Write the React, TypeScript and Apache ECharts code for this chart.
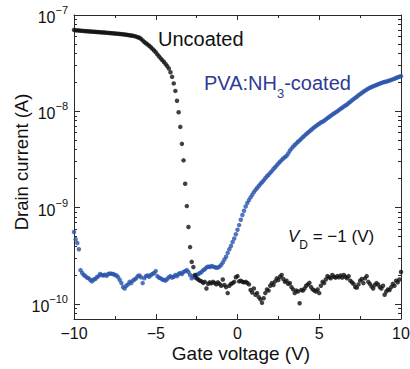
import React, { useEffect, useRef } from "react";
import * as echarts from "echarts";

const FONT = '"Liberation Sans", Arial, Helvetica, sans-serif';
const MINUS = "\u2212";

// Gate voltage sweep: -10 V to +10 V in 0.1 V steps (201 points)
const gateVoltage: number[] = Array.from({ length: 201 }, (_, i) => Math.round((-10 + i * 0.1) * 10) / 10);

// Drain current, uncoated device, in units of 1e-10 A
const uncoatedCurrent: number[] = [
  700, 695, 692, 690, 688, 685, 683, 680, 678, 676, 674,
  672, 670, 668, 666, 664, 662, 660, 658, 656, 654,
  652, 650, 647, 645, 643, 640, 638, 635, 633, 630,
  627, 624, 620, 617, 613, 609, 603, 597, 588, 580,
  565, 545, 525, 510, 495, 480, 462, 445, 428, 410,
  390, 372, 355, 340, 325, 310, 295, 278, 255, 228,
  195, 163, 129, 98, 69, 46, 31, 17.7, 10.4, 6.3,
  3.9, 2.74, 2.42, 2.0,
  1.85, 1.8, 1.75, 1.72, 1.66, 1.7, 1.45, 1.62, 1.68, 1.64,
  1.7, 1.66, 1.6, 1.68, 1.62, 1.55, 1.8, 1.58, 1.5, 1.3,
  1.55, 1.62, 1.65, 1.7, 1.9, 1.95, 1.72, 1.75, 1.7, 1.68,
  1.7, 1.66, 1.6, 1.4, 1.32, 1.45, 1.25, 1.3, 1.18, 1.12,
  1.03, 1.15, 1.3, 1.42, 1.38, 1.55, 1.65, 1.58, 1.72, 1.85,
  1.78, 1.92, 2.0, 1.82, 1.7, 1.75, 1.62, 1.65, 1.5, 1.42,
  1.3, 1.38, 1.35, 1.02, 1.4, 1.38, 1.45, 1.55, 1.6, 1.66,
  1.5, 1.42, 1.38, 1.35, 1.42, 1.3, 1.55, 1.7, 1.65, 1.8,
  1.95, 1.9, 1.85, 2.0, 1.92, 1.88, 1.95, 1.9, 1.98, 1.88,
  2.0, 1.92, 1.85, 1.95, 1.75, 1.68, 1.62, 1.5, 1.48, 1.6,
  1.75, 1.82, 1.65, 1.85, 1.95, 1.7, 1.62, 1.52, 1.45, 1.58,
  1.65, 1.6, 1.5, 1.45, 1.55, 1.25, 1.35, 1.42, 1.4, 1.5,
  1.62, 1.55, 1.75, 1.68, 1.8, 2.15,
];

// Drain current, PVA:NH3-coated device, in units of 1e-10 A
const coatedCurrent: number[] = [
  5.6, 4.7, 4.3, 3.7, 2.25, 2.1, 2.0, 1.95, 1.88, 1.85,
  1.78, 1.72, 1.8, 1.82, 1.9, 1.95, 2.05, 2.0, 1.98, 2.02,
  1.97, 2.05, 2.08, 2.06, 2.05, 2.0, 1.98, 1.9, 1.78, 1.65,
  1.5, 1.45, 1.55, 1.6, 1.7, 1.65, 1.75, 1.8, 1.85, 1.95,
  1.98, 1.9, 1.65, 1.85, 1.95, 1.98, 1.92, 2.0, 2.05, 2.1,
  2.2, 1.95, 1.88, 1.85, 1.8, 1.78, 1.75, 1.82, 1.9, 1.95,
  1.88, 1.92, 2.0, 1.95, 2.05, 2.1, 2.05, 2.15, 2.2, 2.25,
  2.15, 2.0, 1.85, 1.95, 1.9, 2.0, 2.05, 2.1, 2.15, 2.25,
  2.3, 2.4, 2.45, 2.42, 2.48, 2.45, 2.42, 2.38, 2.4, 2.45,
  2.55, 2.7, 2.9, 3.1, 3.4, 3.7, 4.0, 4.4, 4.8, 5.3,
  5.9, 6.6, 7.5, 8.4, 9.3, 10.3, 11.2, 12.0, 12.8, 13.6,
  14.5, 15.3, 16.0, 16.8, 17.6, 18.4, 19.2, 20.2, 21.2, 22.0,
  23.0, 24.0, 25.2, 26.3, 27.5, 28.8, 30.0, 31.2, 32.4, 33.5,
  34.5, 36.5, 39.0, 41.0, 43.0, 44.8, 46.5, 48.3, 50.0, 52.0,
  54.0, 56.0, 58.0, 60.0, 62.0, 64.0, 66.5, 68.5, 70.5, 72.5,
  74.5, 76.5, 78.0, 80.0, 82.5, 85.0, 87.5, 90.0, 92.5, 95.0,
  97.5, 100, 103, 106, 109, 112, 115, 118, 122, 126,
  130, 134, 138, 142, 147, 151, 155, 160, 164, 168,
  172, 176, 179, 182, 185, 188, 191, 194, 197, 200,
  202, 204, 206, 209, 212, 215, 218, 222, 226, 229,
  232,
];

const CURRENT_UNIT = 1e-10;

// Axis ranges (log10 of current in A)
const Y_MIN = Math.log10(7e-11);
const Y_MAX = -7;
const yMajorTicks = [-10, -9, -8, -7];
const yMinorTicks: number[] = [];
for (const n of [-11, -10, -9, -8]) {
  for (let k = 2; k <= 9; k++) {
    const v = n + Math.log10(k);
    if (v >= Y_MIN - 1e-9 && v <= Y_MAX) yMinorTicks.push(v);
  }
}

const BLACK = "#111111";
const BLUE_DOT = "#2853ab";
const BLUE_TEXT = "#2e3a94";
const AXIS = "#2a2a2a";

export default function App() {
  const ref = useRef<HTMLDivElement>(null);

  useEffect(() => {
    if (!ref.current) return;
    const chart = echarts.init(ref.current, null, { renderer: "svg" });

    const toData = (arr: number[]) =>
      gateVoltage.map((v, i) => [v, Math.log10(arr[i] * CURRENT_UNIT)]);

    const lineStyle = { color: AXIS, width: 1 };
    const xCommon: any = {
      type: "value",
      min: -10,
      max: 10,
      interval: 5,
      axisLine: { show: true, onZero: false, lineStyle },
      axisTick: { show: true, inside: true, length: 5, lineStyle },
      minorTick: { show: true, splitNumber: 2, length: 3, lineStyle },
      splitLine: { show: false },
      minorSplitLine: { show: false },
    };
    const yCommon: any = {
      type: "value",
      min: Y_MIN,
      max: Y_MAX,
      splitLine: { show: false },
      axisLine: { show: true, onZero: false, lineStyle },
    };
    const hiddenLine = { show: false, onZero: false };

    chart.setOption({
      animation: false,
      backgroundColor: "#ffffff",
      grid: {
        left: 74,
        right: 9,
        top: 15,
        bottom: 50,
        containLabel: false,
        outerBoundsMode: "none",
      },
      xAxis: [
        {
          ...xCommon,
          position: "bottom",
          axisLabel: {
            show: true,
            margin: 6,
            fontSize: 16,
            fontFamily: FONT,
            color: BLACK,
            formatter: (v: number) => (v < 0 ? MINUS + Math.abs(v) : String(v)),
          },
          name: "Gate voltage (V)",
          nameLocation: "middle",
          nameGap: 25,
          nameMoveOverlap: false,
          nameTextStyle: { fontSize: 19, fontFamily: FONT, color: BLACK, padding: [0, 0, 0, 7] },
        },
        { ...xCommon, position: "top", axisLabel: { show: false } },
      ],
      yAxis: [
        {
          ...yCommon,
          position: "left",
          axisTick: { show: true, inside: true, length: 6, lineStyle, customValues: yMajorTicks },
          axisLabel: {
            show: true,
            margin: 6,
            customValues: yMajorTicks,
            formatter: (v: number) => `{b|10}{s|${MINUS}${Math.round(-v)}}`,
            rich: {
              b: { fontSize: 16, fontFamily: FONT, color: BLACK, verticalAlign: "bottom" },
              s: { fontSize: 11, fontFamily: FONT, color: BLACK, verticalAlign: "top", padding: [0, 0, 10, 0] },
            },
          },
          name: "Drain current (A)",
          nameLocation: "middle",
          nameGap: 43,
          nameMoveOverlap: false,
          nameTextStyle: { fontSize: 18.5, fontFamily: FONT, color: BLACK, padding: [0, 0, 0, 10] },
        },
        {
          ...yCommon,
          position: "left",
          axisLine: hiddenLine,
          axisTick: { show: true, inside: true, length: 3, lineStyle, customValues: yMinorTicks },
          axisLabel: { show: false },
        },
        {
          ...yCommon,
          position: "right",
          axisTick: { show: true, inside: true, length: 6, lineStyle, customValues: yMajorTicks },
          axisLabel: { show: false },
        },
        {
          ...yCommon,
          position: "right",
          axisLine: hiddenLine,
          axisTick: { show: true, inside: true, length: 3, lineStyle, customValues: yMinorTicks },
          axisLabel: { show: false },
        },
      ],
      series: [
        {
          name: "PVA:NH3-coated",
          type: "scatter",
          xAxisIndex: 0,
          yAxisIndex: 0,
          symbol: "circle",
          symbolSize: 4.5,
          itemStyle: { color: BLUE_DOT },
          emphasis: { disabled: true },
          data: toData(coatedCurrent),
        },
        {
          name: "Uncoated",
          type: "scatter",
          xAxisIndex: 0,
          yAxisIndex: 0,
          symbol: "circle",
          symbolSize: 4.5,
          itemStyle: { color: BLACK },
          emphasis: { disabled: true },
          data: toData(uncoatedCurrent),
        },
      ],
      graphic: [
        {
          type: "text",
          x: 158,
          y: 38.5,
          style: {
            text: "Uncoated",
            fontSize: 20,
            fontFamily: FONT,
            fill: BLACK,
            align: "left",
            verticalAlign: "middle",
          },
        },
        {
          type: "text",
          x: 204,
          y: 73,
          style: {
            text: "{n|PVA:NH}{s|3}{n|-coated}",
            align: "left",
            verticalAlign: "top",
            rich: {
              n: { fontSize: 20, fontFamily: FONT, fill: BLUE_TEXT, color: BLUE_TEXT, verticalAlign: "top" },
              s: { fontSize: 13, fontFamily: FONT, fill: BLUE_TEXT, color: BLUE_TEXT, verticalAlign: "bottom", padding: [14, 0, 0, 0] },
            },
          },
        },
        {
          type: "text",
          x: 288,
          y: 228,
          style: {
            text: `{v|V}{d|D}{n| = ${MINUS}1 (V)}`,
            align: "left",
            verticalAlign: "top",
            rich: {
              v: { fontSize: 17, fontFamily: FONT, fontStyle: "italic", fill: BLACK, color: BLACK, verticalAlign: "top" },
              d: { fontSize: 12, fontFamily: FONT, fill: BLACK, color: BLACK, verticalAlign: "bottom", padding: [11, 0, 0, 0] },
              n: { fontSize: 17, fontFamily: FONT, fill: BLACK, color: BLACK, verticalAlign: "top" },
            },
          },
        },
      ],
    });

    return () => chart.dispose();
  }, []);

  return (
    <div
      ref={ref}
      style={{ position: "fixed", left: 0, top: 0, width: 410, height: 369, background: "#fff" }}
    />
  );
}
